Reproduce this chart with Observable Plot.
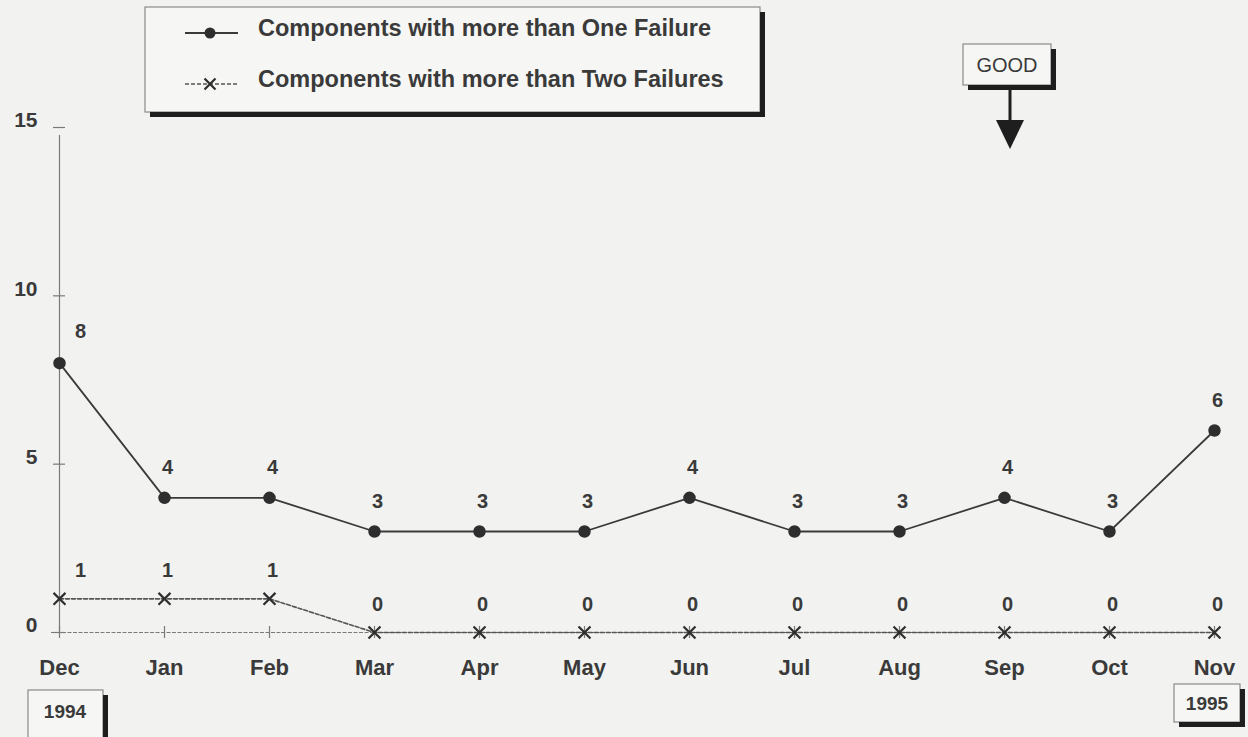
<!DOCTYPE html>
<html>
<head>
<meta charset="utf-8">
<script src="https://cdn.jsdelivr.net/npm/d3@7"></script>
<script src="https://cdn.jsdelivr.net/npm/@observablehq/plot@0.6"></script>
<style>
  html, body { margin: 0; padding: 0; background: #f2f2f0; }
  #chart svg { display: block; }
</style>
</head>
<body>
<div id="chart"></div>
<script>
const months = ["Dec", "Jan", "Feb", "Mar", "Apr", "May", "Jun", "Jul", "Aug", "Sep", "Oct", "Nov"];
const oneFailure = [8, 4, 4, 3, 3, 3, 4, 3, 3, 4, 3, 6];
const twoFailures = [1, 1, 1, 0, 0, 0, 0, 0, 0, 0, 0, 0];
const yTicks = [0, 5, 10, 15];
const seriesNames = ["Components with more than One Failure", "Components with more than Two Failures"];
const years = ["1994", "1995"];
const goodLabel = "GOOD";

const oneData = months.map((m, i) => ({month: m, value: oneFailure[i]}));
const twoData = months.map((m, i) => ({month: m, value: twoFailures[i]}));
const first = months[0];
const last = months[months.length - 1];

const font = "'Liberation Sans', Arial, sans-serif";
const ink = "#2e2e2e";
const textInk = "#3a3a3a";

const chart = Plot.plot({
  width: 1248,
  height: 737,
  marginLeft: 58,
  marginRight: 33,
  marginTop: 127,
  marginBottom: 105,
  style: {background: "#f2f2f0", fontFamily: font},
  x: {type: "point", domain: months, padding: 0, axis: null},
  y: {domain: [0, 15], axis: null},
  marks: [
    // y axis line
    Plot.ruleX([first], {x: d => d, y1: 0, y2: 15, stroke: "#7a7a7a", strokeWidth: 1.2, insetBottom: -8, insetTop: -1}),
    // y ticks
    Plot.ruleY(yTicks, {y: d => d, x1: () => first, x2: () => first, insetLeft: -6, insetRight: -6, stroke: "#7a7a7a", strokeWidth: 1.2}),
    // y tick labels
    Plot.text(yTicks, {x: () => first, y: d => d, text: d => String(d), textAnchor: "end", dx: -22, dy: -7, fontSize: 21, fontWeight: "bold", fill: textInk}),
    // baseline
    Plot.ruleY([0], {x1: () => first, x2: () => last, insetLeft: -8, stroke: "#7a7a7a", strokeWidth: 1.2, strokeDasharray: "4,1.5"}),
    // x ticks
    Plot.ruleX(months, {x: d => d, y1: 0, y2: 0, insetTop: -6, insetBottom: -6, stroke: "#7a7a7a", strokeWidth: 1.2}),
    // x labels
    Plot.text(months, {x: d => d, y: 0, dy: 35, text: d => d, fontSize: 22, fontWeight: "bold", fill: textInk}),
    // two failures series
    Plot.line(twoData, {x: "month", y: "value", stroke: "#555", strokeWidth: 1.6, strokeDasharray: "4,2"}),
    Plot.dot(twoData, {x: "month", y: "value", symbol: "times", r: 5.5, stroke: ink, strokeWidth: 2.2}),
    // one failure series
    Plot.line(oneData, {x: "month", y: "value", stroke: "#3a3a3a", strokeWidth: 1.8}),
    Plot.dot(oneData, {x: "month", y: "value", symbol: "circle", r: 5.5, fill: ink, stroke: ink}),
    // value labels
    Plot.text(oneData.filter(d => d.month === first), {x: "month", y: "value", text: d => String(d.value), dx: 21, dy: -32, fontSize: 20, fontWeight: "bold", fill: textInk}),
    Plot.text(oneData.filter(d => d.month !== first), {x: "month", y: "value", text: d => String(d.value), dx: 3, dy: -30, fontSize: 20, fontWeight: "bold", fill: textInk}),
    Plot.text(twoData.filter(d => d.month === first), {x: "month", y: "value", text: d => String(d.value), dx: 21, dy: -28, fontSize: 20, fontWeight: "bold", fill: textInk}),
    Plot.text(twoData.filter(d => d.month !== first), {x: "month", y: "value", text: d => String(d.value), dx: 3, dy: -28, fontSize: 20, fontWeight: "bold", fill: textInk})
  ]
});

document.getElementById("chart").appendChild(chart);

// decorations: legend, GOOD arrow, year boxes
const svg = d3.select(chart);
const deco = svg.append("g").attr("font-family", font).attr("text-anchor", "start");

function shadowBox(x, y, w, h) {
  deco.append("rect").attr("x", x).attr("y", y).attr("width", w).attr("height", h)
    .attr("fill", "#f6f6f4").attr("stroke", "#8a8a8a").attr("stroke-width", 1.2);
  deco.append("rect").attr("x", x + w).attr("y", y + 5).attr("width", 5).attr("height", h)
    .attr("fill", "#1e1e1e");
  deco.append("rect").attr("x", x + 5).attr("y", y + h).attr("width", w).attr("height", 5)
    .attr("fill", "#1e1e1e");
}

// legend
shadowBox(145, 7, 615, 105);
deco.append("line").attr("x1", 185).attr("x2", 238).attr("y1", 33).attr("y2", 33)
  .attr("stroke", "#3a3a3a").attr("stroke-width", 1.8);
deco.append("circle").attr("cx", 210).attr("cy", 33).attr("r", 5.5).attr("fill", ink);
deco.append("line").attr("x1", 185).attr("x2", 238).attr("y1", 84).attr("y2", 84)
  .attr("stroke", "#555").attr("stroke-width", 1.6).attr("stroke-dasharray", "4,2");
deco.append("path").attr("d", "M204.5,78.5L215.5,89.5M215.5,78.5L204.5,89.5")
  .attr("stroke", ink).attr("stroke-width", 2.2);
seriesNames.forEach((name, i) => {
  deco.append("text").attr("x", 258).attr("y", i === 0 ? 28 : 79).attr("dy", "0.35em")
    .attr("text-anchor", "start")
    .attr("font-size", 23.5).attr("font-weight", "bold").attr("fill", textInk).text(name);
});

// GOOD box and arrow
shadowBox(963, 44, 88, 41);
deco.append("text").attr("x", 1007).attr("y", 65).attr("dy", "0.35em").attr("text-anchor", "middle")
  .attr("font-size", 20).attr("fill", textInk).text(goodLabel);
deco.append("line").attr("x1", 1010).attr("x2", 1010).attr("y1", 88).attr("y2", 122)
  .attr("stroke", "#1e1e1e").attr("stroke-width", 3);
deco.append("path").attr("d", "M996,120L1024,120L1010,149Z").attr("fill", "#1e1e1e");

// year boxes
shadowBox(28, 690, 75, 50);
deco.append("text").attr("x", 65).attr("y", 711).attr("dy", "0.35em").attr("text-anchor", "middle")
  .attr("font-size", 19).attr("font-weight", "bold").attr("fill", textInk).text(years[0]);
shadowBox(1174, 684, 66, 38);
deco.append("text").attr("x", 1207).attr("y", 703).attr("dy", "0.35em").attr("text-anchor", "middle")
  .attr("font-size", 19).attr("font-weight", "bold").attr("fill", textInk).text(years[1]);
</script>
</body>
</html>
